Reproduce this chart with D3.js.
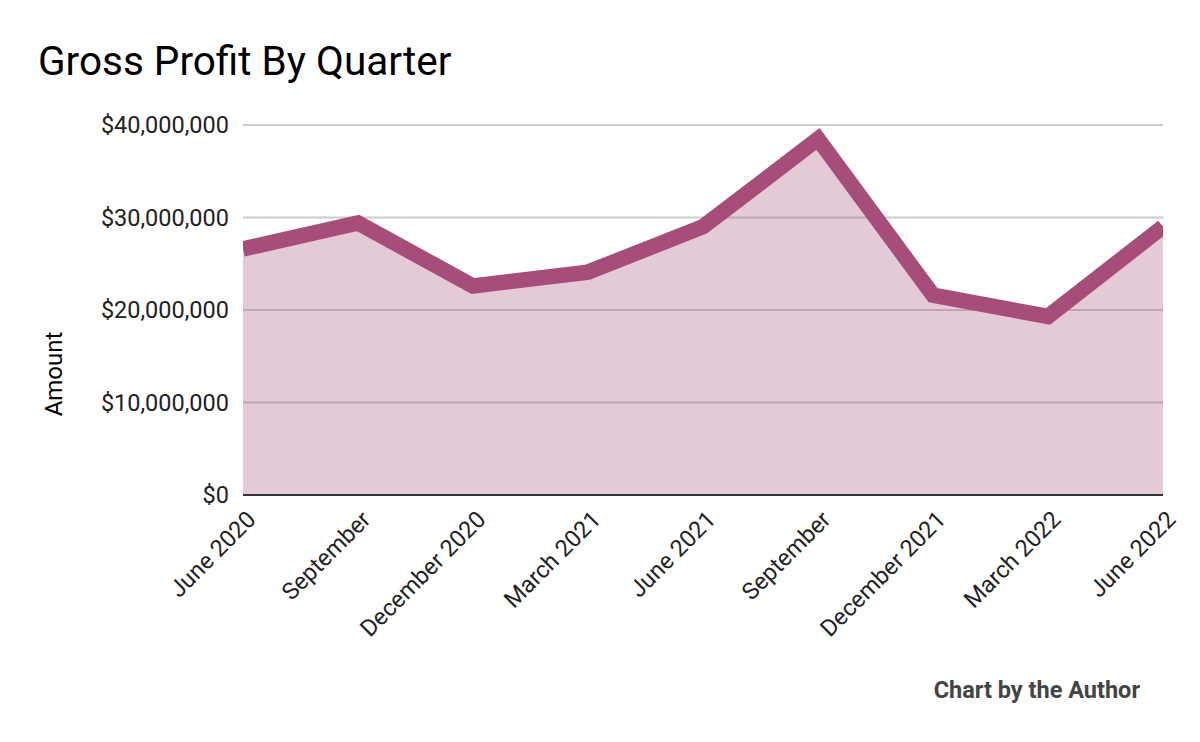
<!DOCTYPE html>
<html>
<head>
<meta charset="utf-8">
<script src="https://cdn.jsdelivr.net/npm/d3@7"></script>
<style>
  body { margin: 0; background: #fff; }
  text { font-family: Roboto, "Noto Sans", sans-serif; }
</style>
</head>
<body>
<div id="chart"></div>
<script>
var quarters = ['June 2020', 'September', 'December 2020', 'March 2021', 'June 2021',
	'September', 'December 2021', 'March 2022', 'June 2022'];
var grossProfit = [26600000, 29400000, 22600000, 24100000, 29000000,
	38500000, 21600000, 19300000, 29000000];
var yTicks = [0, 10000000, 20000000, 30000000, 40000000];

var width = 1200, height = 742;
var margin = { left: 243, right: 37, top: 125, bottom: 247 };
var plotW = width - margin.left - margin.right,
	plotH = height - margin.top - margin.bottom;
var lineColor = '#a64d79';

var svg = d3.select('#chart').append('svg')
	.attr('width', width)
	.attr('height', height);

var x = d3.scalePoint()
	.domain(d3.range(quarters.length))
	.range([0, plotW]);

var y = d3.scaleLinear()
	.domain([0, 40000000])
	.range([plotH, 0]);

// title
svg.append('text')
	.attr('x', 38)
	.attr('y', 75)
	.style('font-size', '40.5px')
	.style('fill', '#000')
	.text('Gross Profit By Quarter');

var g = svg.append('g')
	.attr('transform', 'translate(' + margin.left + ',' + margin.top + ')');

svg.append('defs').append('clipPath')
	.attr('id', 'plot-clip')
	.append('rect')
	.attr('x', 0)
	.attr('y', -20)
	.attr('width', plotW)
	.attr('height', plotH + 20);

// gridlines
g.selectAll('line.grid')
	.data(yTicks.filter(function (d) { return d > 0; }))
	.enter().append('line')
	.attr('class', 'grid')
	.attr('x1', 0)
	.attr('x2', plotW)
	.attr('y1', function (d) { return y(d); })
	.attr('y2', function (d) { return y(d); })
	.style('stroke', '#cccccc')
	.style('stroke-width', 2);

// y tick labels
g.selectAll('text.ytick')
	.data(yTicks)
	.enter().append('text')
	.attr('class', 'ytick')
	.attr('x', -14)
	.attr('y', function (d) { return y(d); })
	.attr('dy', '0.35em')
	.attr('text-anchor', 'end')
	.style('font-size', '23.5px')
	.style('fill', '#222')
	.text(function (d) { return '$' + d3.format(',')(d); });

// y axis title
svg.append('text')
	.attr('transform', 'translate(62,374) rotate(-90)')
	.attr('text-anchor', 'middle')
	.style('font-size', '24px')
	.style('fill', '#000')
	.text('Amount');

var area = d3.area()
	.x(function (d, i) { return x(i); })
	.y0(plotH)
	.y1(function (d) { return y(d); });

var line = d3.line()
	.x(function (d, i) { return x(i); })
	.y(function (d) { return y(d); });

g.append('path')
	.datum(grossProfit)
	.attr('d', area)
	.style('fill', lineColor)
	.style('fill-opacity', 0.3);

g.append('path')
	.datum(grossProfit)
	.attr('d', line)
	.attr('clip-path', 'url(#plot-clip)')
	.style('fill', 'none')
	.style('stroke', lineColor)
	.style('stroke-width', 15.5)
	.style('stroke-linejoin', 'miter');

// baseline
g.append('line')
	.attr('x1', 0)
	.attr('x2', plotW)
	.attr('y1', y(0))
	.attr('y2', y(0))
	.style('stroke', '#333')
	.style('stroke-width', 2);

// x labels
g.selectAll('text.xtick')
	.data(quarters)
	.enter().append('text')
	.attr('class', 'xtick')
	.attr('transform', function (d, i) {
		return 'translate(' + (x(i) + 14) + ',' + (plotH + 26) + ') rotate(-45)';
	})
	.attr('text-anchor', 'end')
	.style('font-size', '23.5px')
	.style('fill', '#222')
	.text(function (d) { return d; });

// credit
svg.append('text')
	.attr('x', 1140)
	.attr('y', 698)
	.attr('text-anchor', 'end')
	.style('font-size', '23.5px')
	.style('font-weight', 'bold')
	.style('fill', '#444')
	.text('Chart by the Author');
</script>
</body>
</html>
